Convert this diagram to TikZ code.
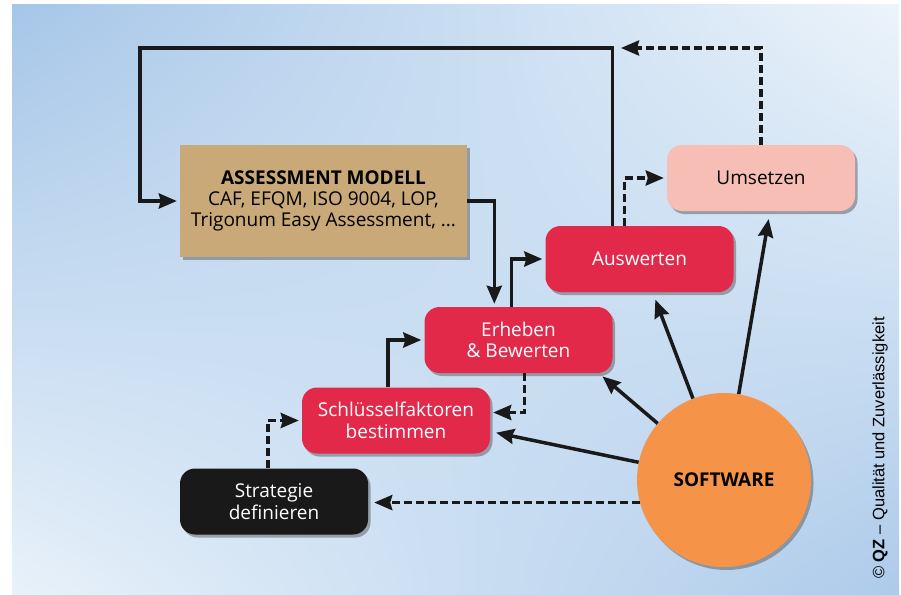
\documentclass[tikz,border=0pt]{standalone}
\usepackage{fontspec}
\setmainfont{Open Sans}
\newfontfamily\credfont{Liberation Sans}
\usepackage{tikz}
\usetikzlibrary{calc,positioning,arrows.meta,shadows,shapes,shadings}

\definecolor{panelblue}{RGB}{166,198,232}
\definecolor{panellight}{RGB}{236,244,251}
\definecolor{tan}{RGB}{202,169,121}
\definecolor{stepred}{RGB}{226,41,74}
\definecolor{steppink}{RGB}{246,190,180}
\definecolor{softorange}{RGB}{245,148,73}

\tikzset{
    boxshadow/.style={drop shadow={shadow xshift=2.5pt, shadow yshift=-3pt, opacity=0.45, fill=black!70}},
    model_block/.style={rectangle, minimum width=287pt, minimum height=112pt, fill=tan, text centered, font=\fontsize{19}{21}\selectfont, boxshadow},
    round_block/.style={rectangle, rounded corners=15pt, minimum width=188pt, minimum height=66pt, text centered, align=center, font=\fontsize{19}{21.5}\selectfont, boxshadow},
    red_block/.style={round_block, fill=stepred, text=white},
    line/.style={-{Stealth[length=18pt,width=15pt,inset=2pt]}, line width=3.5pt, black!90, shorten >=3pt},
    dline/.style={line, dash pattern=on 8pt off 4pt},
}

\begin{document}
\begin{tikzpicture}[x=1pt, y=-1pt]

        \useasboundingbox (0,0) rectangle (901,594);

        % Background panel
        \shade[upper left=panelblue, upper right=panellight, lower left=panellight!95!panelblue, lower right=panelblue!90!panellight]
            (12,5) rectangle (899,594);

        % Nodes of the cycle
        \node[model_block, align=center] (model) at (323.5,201) {\textbf{ASSESSMENT MODELL}\\CAF, EFQM, ISO 9004, LOP,\\Trigonum Easy Assessment, ...};
        \node[round_block, fill=black!90, text=white] (strategie) at (274,501.5) {Strategie\\definieren};
        \node[red_block] (schluessel) at (396,420.5) {Schlüsselfaktoren\\bestimmen};
        \node[red_block] (erheben) at (518.5,340) {Erheben\\\& Bewerten};
        \node[red_block] (auswerten) at (639.5,259) {Auswerten};
        \node[round_block, fill=steppink] (umsetzen) at (761,178) {Umsetzen};

        % Software
        \node[circle, minimum size=174pt, fill=softorange, boxshadow, font=\fontsize{19}{21}\selectfont\bfseries] (software) at (724,480) {SOFTWARE};

        % Corners of the feedback loops
        \coordinate (loopcorner) at (140,48);
        \coordinate (feedback) at (618,48);

        % Big loop back to the model
        \draw[line] ($(auswerten.north west) + (67, 0)$) |- (loopcorner) |- (model.west);
        \draw[dline] (umsetzen.north) |- (feedback);

        % Steps going up
        \draw[line] (model.east) -| ($(erheben.north west) + (70, 0)$);
        \draw[dline] ($(strategie.north west) + (88, 0)$) |- (schluessel.west);
        \draw[line] ($(schluessel.north west) + (86, 0)$) |- (erheben.west);
        \draw[line] ($(erheben.north west) + (87, 0)$) |- (auswerten.west);
        \draw[dline] ($(auswerten.north west) + (79, 0)$) |- (umsetzen.west);
        \draw[dline] ($(erheben.south west) + (100, 0)$) |- ($(schluessel.east) + (0, -8)$);

        % Software arrows
        \draw[line, shorten >=6pt] (software) -- ($(schluessel.east) + (0, 11)$);
        \draw[line, shorten >=5pt] (software) -- ($(erheben.south east) + (-14, 0)$);
        \draw[line, shorten >=8pt] (software) -- ($(auswerten.south) + (13, 0)$);
        \draw[line, shorten >=8pt] (software) -- ($(umsetzen.south) + (9, 0)$);
        \draw[dline, shorten >=6pt] (software.195) -- (software.195 -| strategie.east);

        % Credit
        \node[rotate=90, font=\credfont\fontsize{16.5}{18}\selectfont] (credit) at (880,448) {© \textbf{QZ} – Qualität und Zuverlässigkeit};
    \end{tikzpicture}
\end{document}
